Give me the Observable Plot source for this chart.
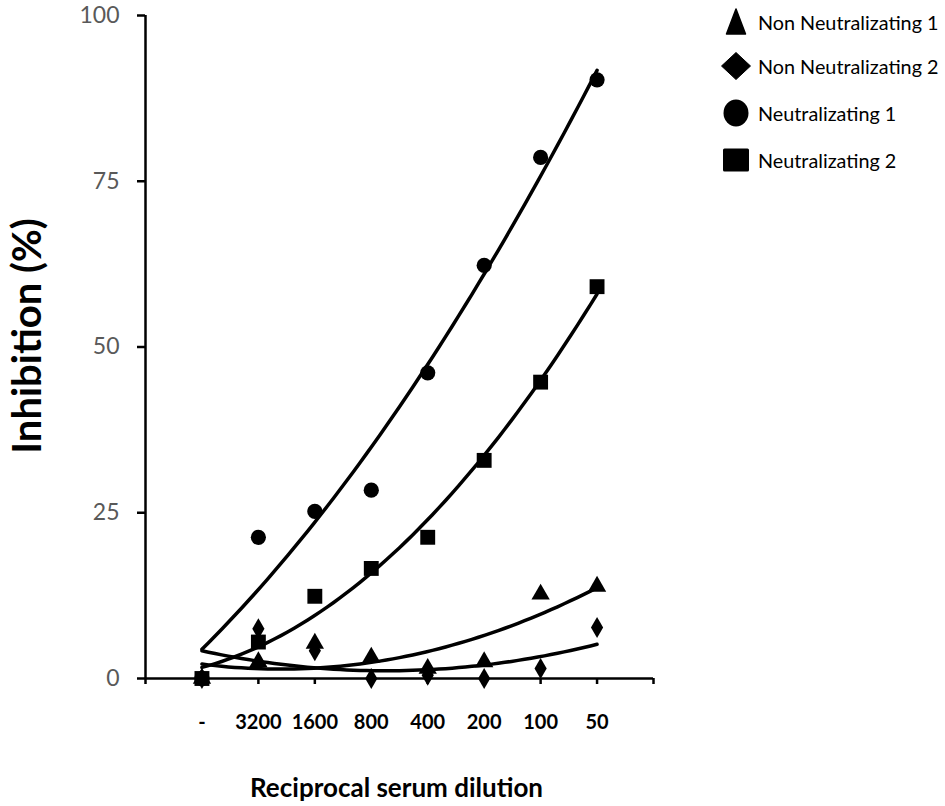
<!DOCTYPE html>
<html>
<head>
<meta charset="utf-8">
<script src="https://cdn.jsdelivr.net/npm/d3@7"></script>
<script src="https://cdn.jsdelivr.net/npm/@observablehq/plot@0.6"></script>
<style>
  html, body { margin: 0; padding: 0; background: #fff; }
  #wrap { position: relative; width: 945px; height: 806px; font-family: Lato, "Open Sans", sans-serif; }
  #legend { position: absolute; left: 721px; top: 0; }
  .row { position: absolute; left: 0; display: flex; align-items: center; white-space: nowrap; }
  .row svg { width: 30px; height: 30px; }
  .row span { font-size: 19.8px; color: #000; margin-left: 7px; }
</style>
</head>
<body>
<div id="wrap"></div>
<script>
// ---- data ----
const categories = ["-", "3200", "1600", "800", "400", "200", "100", "50"];
const nonNeut1 = [0, 2.5, 5.3, 3.2, 1.5, 2.5, 12.7, 13.9];
const nonNeut2 = [0, 7.5, 4.2, 0, 0.5, 0, 1.5, 7.7];
const neut1 = [0, 21.3, 25.2, 28.4, 46.1, 62.3, 78.6, 90.3];
const neut2 = [0, 5.5, 12.4, 16.6, 21.3, 32.9, 44.7, 59.1];
const seriesNames = ["Non Neutralizating 1", "Non Neutralizating 2", "Neutralizating 1", "Neutralizating 2"];
const yTicks = [0, 25, 50, 75, 100];

const seriesValues = [nonNeut1, nonNeut2, neut1, neut2];
const symbols = ["triangle", "diamond", "circle", "square"];
const radii = [6.8, 6.4, 7.6, 8.4];

function points(vals) { return vals.map((v, i) => ({x: i + 1, y: v})); }

// quadratic least-squares trendline (polynomial order-2 trendline of each series)
function quadFit(vals) {
  const xs = vals.map((_, i) => i + 1);
  const S = k => d3.sum(xs, x => x ** k);
  const T = k => d3.sum(xs, (x, i) => x ** k * vals[i]);
  const A = [[S(4), S(3), S(2)], [S(3), S(2), S(1)], [S(2), S(1), S(0)]];
  const b = [T(2), T(1), T(0)];
  const det = m => m[0][0]*(m[1][1]*m[2][2]-m[1][2]*m[2][1]) - m[0][1]*(m[1][0]*m[2][2]-m[1][2]*m[2][0]) + m[0][2]*(m[1][0]*m[2][1]-m[1][1]*m[2][0]);
  const D = det(A);
  const coef = [0, 1, 2].map(c => det(A.map((row, r) => row.map((v, j) => j === c ? b[r] : v))) / D);
  const x0 = 1, x1 = vals.length;
  return d3.range(0, 61).map(k => {
    const x = x0 + (x1 - x0) * k / 60;
    return {x, y: coef[0] * x * x + coef[1] * x + coef[2]};
  });
}

const marks = [];
seriesValues.forEach(vals => {
  marks.push(Plot.line(quadFit(vals), {x: "x", y: "y", stroke: "black", strokeWidth: 3.5, curve: "linear"}));
});
seriesValues.forEach((vals, s) => {
  marks.push(Plot.dot(points(vals), {x: "x", y: "y", symbol: symbols[s], r: radii[s], fill: "black", stroke: "none"}));
});

const chart = Plot.plot({
  width: 945,
  height: 806,
  marginLeft: 145,
  marginRight: 292,
  marginTop: 15,
  marginBottom: 128,
  style: {fontFamily: "Lato, 'Open Sans', sans-serif", background: "white", overflow: "visible"},
  x: {domain: [0, 9], axis: null},
  y: {domain: [0, 100], axis: null},
  marks: [
    Plot.ruleY([0], {x1: 0, x2: 9, stroke: "black", strokeWidth: 2.5}),
    Plot.ruleX([0], {y1: 0, y2: 100, stroke: "black", strokeWidth: 2.5}),
    Plot.axisY({ticks: yTicks, tickSize: 8, tickPadding: 18, fontSize: 23, fill: "#595959", stroke: "black", strokeWidth: 2.5, label: null}),
    Plot.axisX({ticks: d3.range(0, 10), tickSize: 6, tickPadding: 30, fontSize: 20, fontWeight: "bold", fill: "black", stroke: "black", strokeWidth: 2.5, tickFormat: i => categories[i - 1] ?? "", label: null}),
    Plot.text(["Reciprocal serum dilution"], {frameAnchor: "bottom", textAnchor: "middle", dx: -3, dy: 110, fontSize: 26, fontWeight: "bold", fill: "black", lineAnchor: "middle"}),
    Plot.text(["Inhibition (%)"], {frameAnchor: "left", textAnchor: "middle", rotate: -90, dx: -117, dy: -11, fontSize: 40, fontWeight: "bold", fill: "black", lineAnchor: "middle"}),
    ...marks
  ]
});

const wrap = document.getElementById("wrap");
wrap.appendChild(chart);

// legend
const legend = document.createElement("div");
legend.id = "legend";
const legendShapes = [
  '<polygon points="15,2 24.5,27 5.5,27" fill="black" stroke="black" stroke-width="1.5" stroke-linejoin="round"/>',
  '<polygon points="15,1.5 29.5,15 15,28.5 0.5,15" fill="black" stroke="black" stroke-width="1" stroke-linejoin="round"/>',
  '<ellipse cx="15" cy="15" rx="12.5" ry="13.5" fill="black"/>',
  '<rect x="2" y="3.5" width="26" height="23" rx="1.5" fill="black"/>'
];
const rowCenters = [22, 66, 113, 160];
seriesNames.forEach((name, i) => {
  const row = document.createElement("div");
  row.className = "row";
  row.style.top = (rowCenters[i] - 15) + "px";
  row.innerHTML = `<svg viewBox="0 0 30 30">${legendShapes[i]}</svg><span>${name}</span>`;
  legend.appendChild(row);
});
wrap.appendChild(legend);
</script>
</body>
</html>
